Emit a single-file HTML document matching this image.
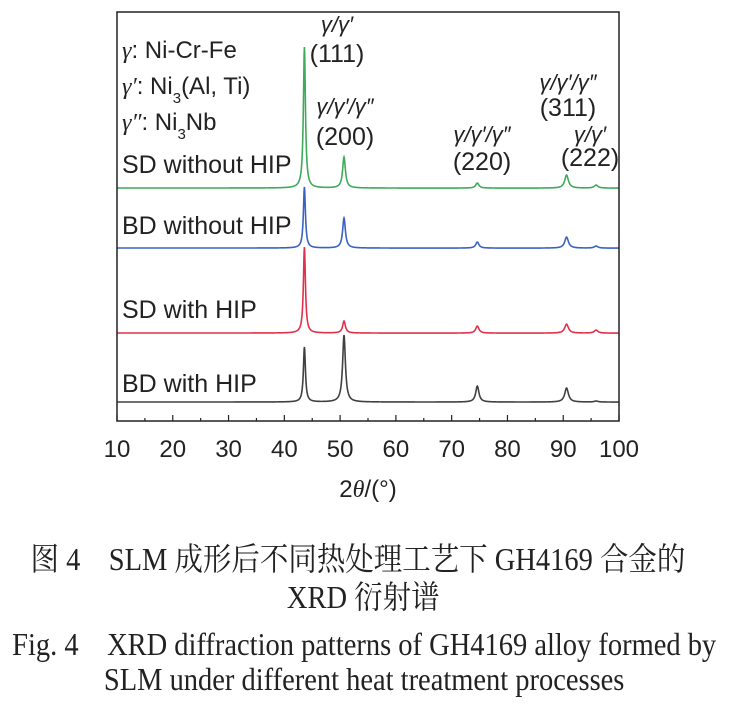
<!DOCTYPE html>
<html><head><meta charset="utf-8"><style>
body{margin:0;background:#fff;width:731px;height:704px;overflow:hidden}
svg text{font-family:"Liberation Sans",sans-serif}
.cap{font-family:"Liberation Serif","Noto Serif CJK SC",serif;font-size:32px;fill:#222}
</style></head><body>
<svg width="731" height="704" style="position:absolute;left:0;top:0">
<g id="plot"></g>
<g transform="translate(365.5,0) scale(0.89,1) translate(-365.5,0)">
<text class="cap" x="357" y="570" text-anchor="middle">图 4　SLM 成形后不同热处理工艺下 GH4169 合金的</text>
<text class="cap" x="363" y="608" text-anchor="middle">XRD 衍射谱</text>
<text class="cap" x="364" y="655" text-anchor="middle">Fig. 4　XRD diffraction patterns of GH4169 alloy formed by</text>
<text class="cap" x="364" y="690" text-anchor="middle">SLM under different heat treatment processes</text>
</g>
</svg>
<script>
const peakPositions=[43.6,50.7,74.6,90.6,95.9];
const seriesNames=["SD without HIP","BD without HIP","SD with HIP","BD with HIP"];
const seriesColors=["#3faa5a","#3a62c0","#e0304a","#404040"];
const baselines=[233,173,88,19];
const peakHeights=[[141,31,5,13,3],[61,30,6,11,2],[86,12,7,9,3],[55,67,16,14,1]];
const peakWidths=[0.22,0.3,0.35,0.4,0.4];
const xTicks=[10,20,30,40,50,60,70,80,90,100];
const X0=117,X1=619,Y0=421,Ytop=12;
const xs=v=>X0+(v-10)/90*(X1-X0);
const ys=v=>Y0-v;
const NS="http://www.w3.org/2000/svg";
const g=document.getElementById('plot');
function mk(t,a,txt){const e=document.createElementNS(NS,t);for(const k in a)e.setAttribute(k,a[k]);if(txt!=null)e.textContent=txt;g.appendChild(e);return e;}
seriesNames.forEach((n,i)=>{let d="";for(let x=10;x<=100.001;x+=0.05){let v=baselines[i]-0.03*(x-10)*(i==3?0.03:0.05);peakPositions.forEach((p,j)=>{const w=peakWidths[j];v+=peakHeights[i][j]/(1+((x-p)/w)**2);});d+=(d?"L":"M")+xs(x).toFixed(2)+","+ys(v).toFixed(2);}
const e=mk('path',{d:d,fill:"none",stroke:seriesColors[i],"stroke-width":1.6});

});
const fr=mk('rect',{x:X0,y:Ytop,width:X1-X0,height:Y0-Ytop,fill:"none",stroke:"#222","stroke-width":1.5});


xTicks.forEach(t=>{mk('line',{x1:xs(t),x2:xs(t),y1:Y0,y2:Y0-6,stroke:"#222","stroke-width":1.2});if(t<100)mk('line',{x1:xs(t+5),x2:xs(t+5),y1:Y0,y2:Y0-3,stroke:"#222","stroke-width":1.2});
const l=mk('text',{x:xs(t),y:457,"text-anchor":"middle","font-size":24,fill:"#222"},t);

});
const xt=mk('text',{x:368,y:497,"text-anchor":"middle","font-size":24,fill:"#222"});


xt.innerHTML='2<tspan font-style="italic" font-family="Liberation Serif">θ</tspan>/(°)';
const labY=[173,234,318,392];
seriesNames.forEach((n,i)=>{const t=mk('text',{x:122,y:labY[i],"font-size":25,fill:"#222"},n);

});
const leg=[['γ',': Ni-Cr-Fe',58],['γ′',': Ni<tspan baseline-shift="sub" font-size="15">3</tspan>(Al, Ti)',94],['γ″',': Ni<tspan baseline-shift="sub" font-size="15">3</tspan>Nb',130]];
leg.forEach(l=>{const t=mk('text',{x:122,y:l[2],"font-size":24,fill:"#222"});t.innerHTML='<tspan font-family="Liberation Serif" font-style="italic">'+l[0]+'</tspan>'+l[1];

});
const ann=[['γ/γ′','(111)',337,32,62],['γ/γ′/γ″','(200)',345,114,145],['γ/γ′/γ″','(220)',482,142,170],['γ/γ′/γ″','(311)',568,90,116],['γ/γ′','(222)',590,142,166]];
ann.forEach(a=>{const t1=mk('text',{x:a[2],y:a[3],"text-anchor":"middle","font-size":22,"font-family":"Liberation Serif","font-style":"italic",fill:"#222"},a[0]);


const t2=mk('text',{x:a[2],y:a[4],"text-anchor":"middle","font-size":25,fill:"#222"},a[1]);

});
</script>
</body></html>
